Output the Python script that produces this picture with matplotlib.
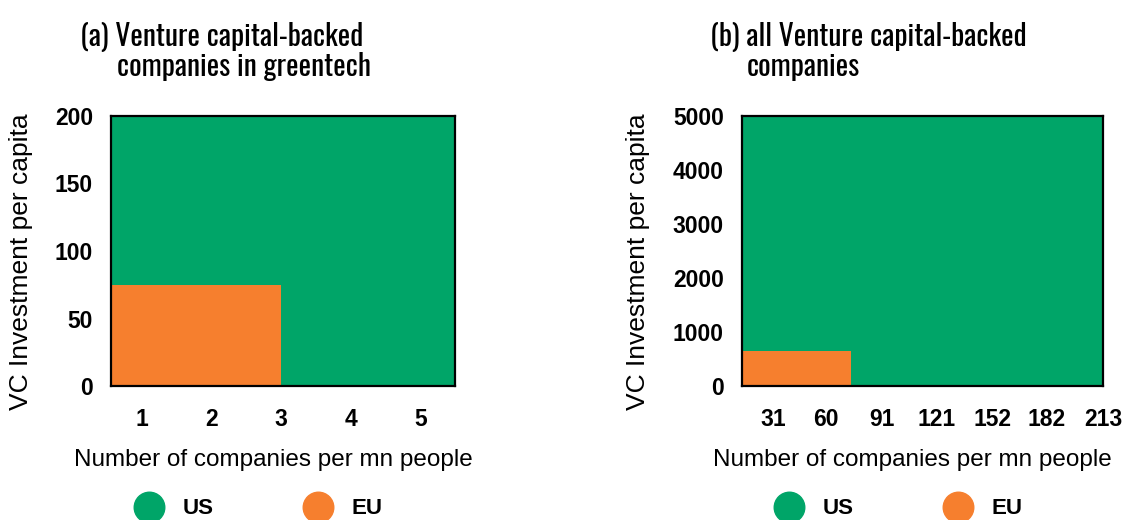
import matplotlib
matplotlib.use("Agg")
import matplotlib.pyplot as plt
from matplotlib.lines import Line2D

# panel (a): greentech
a_x0 = 0.55            # where the x axis starts
a_us = [5.5, 200]      # companies per mn people, VC investment per capita
a_eu = [3.0, 75]
a_xticks = [1, 2, 3, 4, 5]
a_yticks = [0, 50, 100, 150, 200]

# panel (b): all VC-backed companies
b_x0 = 14
b_us = [213, 5000]
b_eu = [74, 650]
b_xticks = [31, 60, 91, 121, 152, 182, 213]
b_yticks = [0, 1000, 2000, 3000, 4000, 5000]

titles = [["(a) Venture capital-backed", "companies in greentech"],
          ["(b) all Venture capital-backed", "companies"]]
series = ["US", "EU"]
green = "#00a568"
orange = "#f67f2e"
title_font = ["Oswald", "Fira Sans Condensed", "DejaVu Sans"]

W, H = 1135, 520
fig = plt.figure(figsize=(W / 100, H / 100), dpi=100)

def px(x, y):
    return x / W, 1 - y / H

def panel(rect, x0, us, eu, xt, yt, title, tx, legx, ylx):
    ax = fig.add_axes(rect)
    ax.bar(x0, us[1], width=us[0] - x0, align="edge", color=green, linewidth=0)
    ax.bar(x0, eu[1], width=eu[0] - x0, align="edge", color=orange, linewidth=0)
    ax.set_xlim(x0, us[0])
    ax.set_ylim(0, us[1])
    ax.set_xticks(xt)
    ax.set_yticks(yt)
    ax.tick_params(length=0, labelsize=16.5)
    ax.tick_params(axis="y", pad=13)
    ax.tick_params(axis="x", pad=16)
    for lab in ax.get_xticklabels() + ax.get_yticklabels():
        lab.set_fontweight("bold")
        lab.set_family("Liberation Sans")
    for s in ax.spines.values():
        s.set_linewidth(1.6)
    ax.set_xlabel("Number of companies per mn people", fontsize=17.5, family="Liberation Sans")
    ax.set_ylabel("VC Investment per capita", fontsize=19, family="Liberation Sans")
    ax.xaxis.set_label_coords(0.472, -0.232)
    ax.yaxis.set_label_coords(ylx, 0.46)

    # two-line title with hanging indent
    fig.text(*px(tx[0], 46), title[0], fontsize=21.3, family=title_font, va="baseline", ha="left")
    fig.text(*px(tx[1], 76), title[1], fontsize=21.3, family=title_font, va="baseline", ha="left")

    handles = [Line2D([], [], marker="o", linestyle="", markersize=22, color=c) for c in (green, orange)]
    fig.legend(handles, series, loc="center", bbox_to_anchor=px(legx, 509), ncol=2, frameon=False,
               prop={"family": "Liberation Sans", "weight": "bold", "size": 16},
               handlelength=1.0, handletextpad=1.0, columnspacing=4.2)
    return ax

panel([111 / W, 1 - 386 / H, 344 / W, 270 / H], a_x0, a_us, a_eu, a_xticks, a_yticks,
      titles[0], (80, 117), 260, -0.227)
panel([742 / W, 1 - 386 / H, 361 / W, 270 / H], b_x0, b_us, b_eu, b_xticks, b_yticks,
      titles[1], (710, 747), 900, -0.255)

fig.savefig("out.png", dpi=100)
